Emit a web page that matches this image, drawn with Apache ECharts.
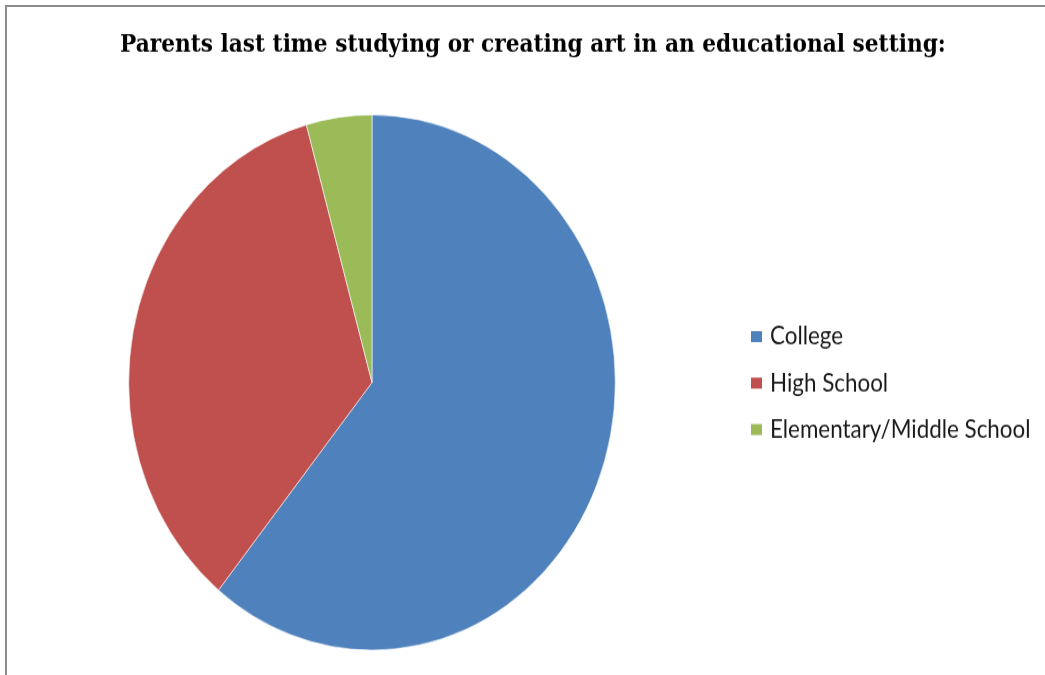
<!DOCTYPE html>
<html>
<head>
<meta charset="utf-8">
<title>Parents last time studying or creating art</title>
<script src="https://cdn.jsdelivr.net/npm/echarts@6/dist/echarts.min.js"></script>
<style>
  html, body { margin: 0; padding: 0; background: #ffffff; overflow: hidden; }
  body { width: 1045px; height: 675px; position: relative; }
  #edge {
    position: absolute; left: 5px; top: 5px; width: 1200px; height: 800px;
    border-left: 2px solid #8c8c8c; border-top: 2px solid #8c8c8c;
  }
  /* the chart is drawn a little taller than wide, like the sheet it came from */
  #frame {
    position: absolute; left: 0; top: 0; width: 1045px; height: 614px;
    transform: scaleY(1.1); transform-origin: 0 0;
  }
  #chart { width: 1045px; height: 614px; }
</style>
</head>
<body>
<div id="edge"></div>
<div id="frame"><div id="chart"></div></div>
<script>
  const chartTitle = 'Parents last time studying or creating art in an educational setting:';
  const categories = ['College', 'High School', 'Elementary/Middle School'];
  const responses = [14, 8, 1];
  const sliceColors = ['#4F81BD', '#C0504D', '#9BBB59'];

  const chart = echarts.init(document.getElementById('chart'), null, { renderer: 'canvas' });

  chart.setOption({
    animation: false,
    backgroundColor: 'transparent',
    color: sliceColors,
    title: {
      text: chartTitle,
      left: 120,
      top: 30,
      padding: 0,
      textStyle: {
        fontFamily: 'DejaVu Serif',
        fontWeight: 'bold',
        fontSize: 21.7,
        color: '#000000'
      }
    },
    legend: {
      orient: 'vertical',
      left: 749,
      top: 295,
      padding: 0,
      icon: 'rect',
      itemWidth: 13,
      itemHeight: 12,
      itemGap: 20.3,
      selectedMode: false,
      data: categories,
      textStyle: {
        fontFamily: 'Lato',
        fontSize: 22.4,
        lineHeight: 20,
        color: '#1a1a1a',
        padding: [0, 0, 0, 2]
      }
    },
    series: [{
      type: 'pie',
      center: [372, 347.7],
      radius: 243.3,
      startAngle: 90,
      clockwise: true,
      silent: true,
      label: { show: false },
      labelLine: { show: false },
      itemStyle: { borderColor: '#ffffff', borderWidth: 0.6 },
      data: categories.map((name, i) => ({ name: name, value: responses[i] }))
    }]
  });
</script>
</body>
</html>
